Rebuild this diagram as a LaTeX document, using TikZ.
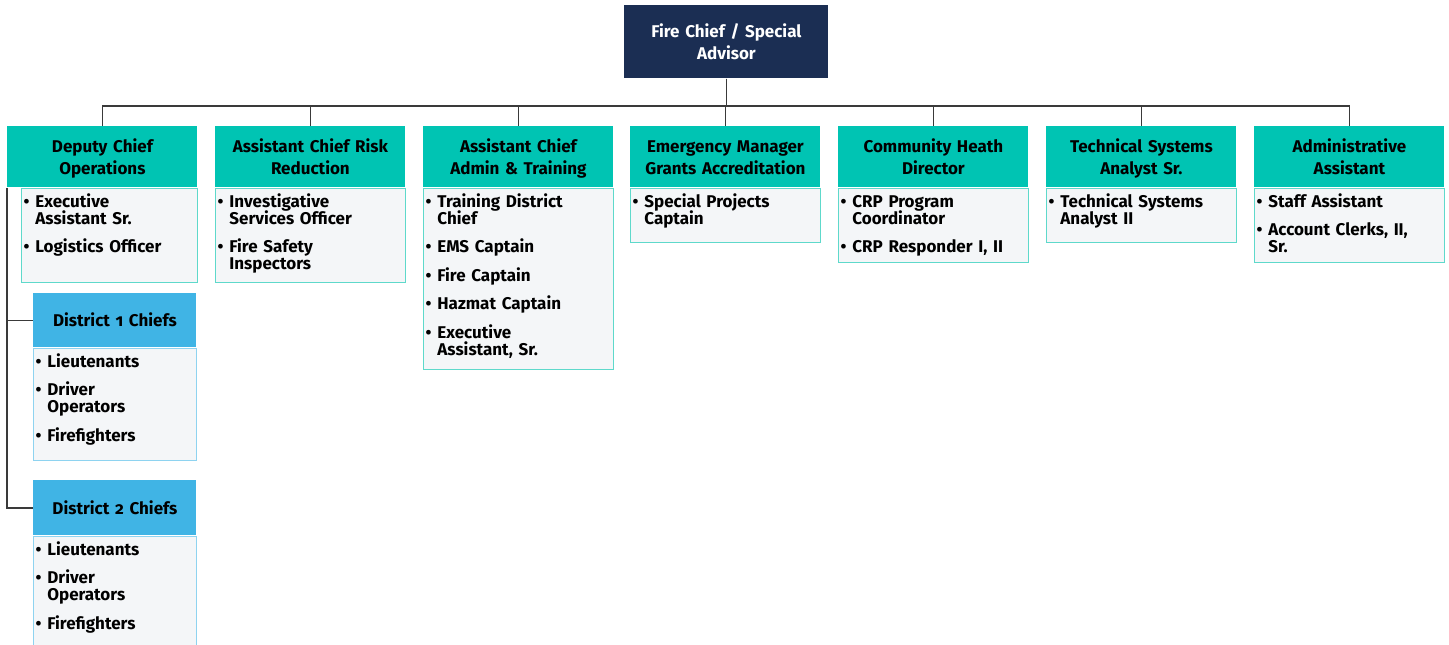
\documentclass[tikz,border=0pt]{standalone}
\usepackage{fontspec}
\setmainfont{Fira Sans}[Numbers=OldStyle]
\usepackage{enumitem}
\usetikzlibrary{positioning}

\definecolor{chiefblue}{HTML}{1B2E53}
\definecolor{headgreen}{HTML}{00C4B3}
\definecolor{distblue}{HTML}{40B4E5}
\definecolor{bodyfill}{HTML}{F4F6F8}
\definecolor{greenline}{HTML}{5ED9CB}
\definecolor{blueline}{HTML}{8ED3F0}
\definecolor{linkgray}{HTML}{3A3A3A}

\setlist[itemize]{label=\textbullet, leftmargin=7pt, labelsep=3pt,
  topsep=0pt, partopsep=0pt, parsep=0pt, itemsep=5.75pt}
\newcommand{\rolesfont}{\fontsize{8.5}{8.5}\selectfont\bfseries\lineskiplimit=-10pt\relax}

\begin{document}
\begin{tikzpicture}[
  x=0.5pt, y=-0.5pt,
  every node/.style={font=\fontsize{8.5}{11}\selectfont\bfseries},
  head/.style={fill=headgreen, anchor=north west, align=center, inner sep=0pt,
    minimum width=95pt, text width=95pt, minimum height=30.5pt,
    execute at begin node={\rule{0pt}{9.7pt}}, execute at end node=\strut},
  chief/.style={head, fill=chiefblue, text=white, minimum width=102pt, text width=102pt,
    minimum height=36.5pt},
  district/.style={head, fill=distblue, minimum width=81.5pt, text width=81.5pt,
    minimum height=27pt},
  body/.style={draw=greenline, fill=bodyfill, line width=0.7pt, anchor=north west,
    inner sep=0pt, minimum width=95pt},
  distbody/.style={body, draw=blueline, minimum width=81.5pt},
  roles/.style={anchor=north west, inner xsep=0pt, inner ysep=1pt, text width=92pt,
    font=\rolesfont},
  link/.style={draw=linkgray, line width=0.7pt}
]
\useasboundingbox (0,0) rectangle (1449,644);

% top
\node[chief] (fc) at (624,5) {Fire Chief / Special\\Advisor};

% second row
\node[head] (dco) at (7,126) {Deputy Chief\\Operations};
\node[head] (acr) at (215,126) {Assistant Chief Risk\\Reduction};
\node[head] (aca) at (423,126) {Assistant Chief\\Admin \& Training};
\node[head] (emg) at (630,126) {Emergency Manager\\Grants Accreditation};
\node[head] (chd) at (838,126) {Community Heath\\Director};
\node[head] (tsa) at (1046,126) {Technical Systems\\Analyst Sr.};
\node[head] (adm) at (1254,126) {Administrative\\Assistant};

\foreach \c in {dco,acr,aca,emg,chd,tsa,adm}
  \draw[link] (fc.south) -- ++(0,27) -| (\c.north);

% bodies
\node[body, minimum width=88pt, minimum height=47pt] (dcob) at ([xshift=7pt]dco.south west) {};
\node[body, minimum height=47pt] (acrb) at (acr.south west) {};
\node[body, minimum height=90.5pt] (acab) at (aca.south west) {};
\node[body, minimum height=27pt] (emgb) at (emg.south west) {};
\node[body, minimum height=37pt] (chdb) at (chd.south west) {};
\node[body, minimum height=27pt] (tsab) at (tsa.south west) {};
\node[body, minimum height=37pt] (admb) at (adm.south west) {};

\node[roles] at (dcob.north west) {\begin{itemize}
  \item Executive\newline Assistant Sr.
  \item Logistics Officer
\end{itemize}};
\node[roles] at (acrb.north west) {\begin{itemize}
  \item Investigative\newline Services Officer
  \item Fire Safety\newline Inspectors
\end{itemize}};
\node[roles] at (acab.north west) {\begin{itemize}
  \item Training District\newline Chief
  \item EMS Captain
  \item Fire Captain
  \item Hazmat Captain
  \item Executive\newline Assistant, Sr.
\end{itemize}};
\node[roles] at (emgb.north west) {\begin{itemize}
  \item Special Projects\newline Captain
\end{itemize}};
\node[roles] at (chdb.north west) {\begin{itemize}
  \item CRP Program\newline Coordinator
  \item CRP Responder I, II
\end{itemize}};
\node[roles] at (tsab.north west) {\begin{itemize}
  \item Technical Systems\newline Analyst II
\end{itemize}};
\node[roles] at (admb.north west) {\begin{itemize}
  \item Staff Assistant
  \item Account Clerks, II,\newline Sr.
\end{itemize}};

% districts under operations
\node[district] (dc1) at (33,293) {District 1 Chiefs};
\node[distbody, minimum height=56pt] (dc1b) at (dc1.south west) {};
\node[roles] at (dc1b.north west) {\begin{itemize}
  \item Lieutenants
  \item Driver\newline Operators
  \item Firefighters
\end{itemize}};

\node[district, minimum height=27.5pt] (dc2) at (33,480) {District 2 Chiefs};
\node[distbody, minimum height=56pt] (dc2b) at (dc2.south west) {};
\node[roles] at (dc2b.north west) {\begin{itemize}
  \item Lieutenants
  \item Driver\newline Operators
  \item Firefighters
\end{itemize}};

\draw[link] (dco.south west) |- (dc1.west);
\draw[link] (dco.south west) |- (dc2.west);
\end{tikzpicture}
\end{document}
